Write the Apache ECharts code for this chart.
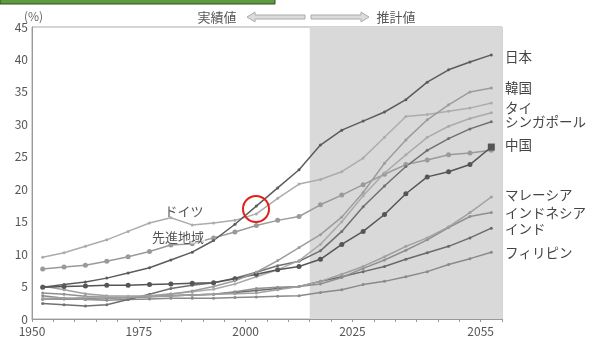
<!DOCTYPE html>
<html>
<head>
<meta charset="utf-8">
<script src="https://cdn.jsdelivr.net/npm/echarts@6/dist/echarts.min.js"></script>
<style>
  html, body { margin: 0; padding: 0; background: #fff; }
  #main { width: 594px; height: 356px; }
</style>
</head>
<body>
<div id="main"></div>
<script>
// 5-year periods, each point drawn at the middle of its period
const years = [1950, 1955, 1960, 1965, 1970, 1975, 1980, 1985, 1990, 1995, 2000,
  2005, 2010, 2015, 2020, 2025, 2030, 2035, 2040, 2045, 2050, 2055];
const labelYears = [1950, 1975, 2000, 2025, 2055];

// 65歳以上人口比率 (%)
const japan = [4.9, 5.3, 5.7, 6.3, 7.1, 7.9, 9.1, 10.3, 12.1, 14.6, 17.4, 20.2, 23.0, 26.8, 29.1, 30.5, 31.9, 33.8, 36.5, 38.4, 39.6, 40.7];
const korea = [3.0, 3.2, 3.0, 3.2, 3.3, 3.5, 3.8, 4.3, 5.0, 5.9, 7.2, 9.0, 11.0, 13.0, 15.7, 19.5, 24.0, 27.6, 30.7, 33.0, 35.0, 35.6];
const germany = [9.5, 10.2, 11.2, 12.2, 13.5, 14.8, 15.6, 14.5, 14.8, 15.2, 16.2, 18.6, 20.8, 21.5, 22.7, 24.8, 28.0, 31.2, 31.5, 32.0, 32.5, 33.3];
const developed = [7.7, 8.0, 8.3, 8.9, 9.6, 10.4, 11.4, 11.6, 12.5, 13.4, 14.4, 15.2, 15.8, 17.6, 19.1, 20.7, 22.3, 23.8, 24.5, 25.3, 25.6, 26.0];
const thailand = [3.2, 3.2, 3.3, 3.4, 3.5, 3.6, 3.9, 4.2, 4.6, 5.4, 6.5, 7.6, 9.0, 11.5, 15.0, 19.0, 22.5, 25.3, 28.0, 29.7, 30.9, 31.8];
const singapore = [2.4, 2.2, 2.0, 2.2, 3.0, 3.8, 4.7, 5.2, 5.6, 6.3, 7.2, 8.2, 8.9, 10.5, 13.5, 17.3, 20.5, 23.5, 26.0, 27.8, 29.3, 30.4];
const china = [4.9, 5.0, 5.1, 5.2, 5.2, 5.3, 5.4, 5.5, 5.6, 6.2, 6.9, 7.6, 8.1, 9.2, 11.5, 13.5, 16.1, 19.3, 21.9, 22.7, 23.8, 26.5];
const malaysia = [5.1, 4.5, 3.9, 3.6, 3.5, 3.5, 3.6, 3.7, 3.8, 3.9, 4.0, 4.5, 5.0, 5.8, 6.9, 8.1, 9.6, 11.2, 12.5, 14.2, 16.4, 18.8];
const indonesia = [4.0, 3.8, 3.5, 3.4, 3.3, 3.4, 3.6, 3.7, 3.8, 4.2, 4.7, 4.9, 5.0, 5.4, 6.4, 7.8, 9.1, 10.6, 12.2, 14.1, 15.8, 16.4];
const india = [3.1, 3.1, 3.1, 3.2, 3.3, 3.5, 3.6, 3.7, 3.8, 4.1, 4.4, 4.7, 5.0, 5.8, 6.5, 7.3, 8.1, 9.2, 10.2, 11.2, 12.5, 14.0];
const philippines = [3.6, 3.2, 3.0, 2.9, 3.0, 3.1, 3.2, 3.2, 3.2, 3.3, 3.4, 3.5, 3.6, 4.1, 4.5, 5.3, 5.8, 6.5, 7.3, 8.4, 9.3, 10.3];

const font = '"Noto Sans CJK JP", "Noto Sans", sans-serif';

const toPoints = (vals) => vals.map((v, i) => [years[i] + 2.5, v]);

const makeSeries = (name, vals, color, size, width) => ({
  name: name,
  type: 'line',
  data: toPoints(vals),
  symbol: 'circle',
  symbolSize: size || 3,
  showSymbol: true,
  lineStyle: { color: color, width: width || 1.5 },
  itemStyle: { color: color },
  z: 3,
});

const chinaSeries = makeSeries('中国', china, '#555555', 5);
const last = chinaSeries.data.length - 1;
chinaSeries.data[last] = { value: chinaSeries.data[last], symbol: 'rect', symbolSize: 7 };

// right-side labels
const rightLabels = [
  ['日本', 57], ['韓国', 88], ['タイ', 108], ['シンガポール', 122], ['中国', 145],
  ['マレーシア', 195], ['インドネシア', 213], ['インド', 229], ['フィリピン', 253],
];

const myChart = echarts.init(document.getElementById('main'));

const option = {
  animation: false,
  grid: { left: 32, right: 92, top: 27, bottom: 37, show: true, borderColor: '#aaa', borderWidth: 1 },
  xAxis: {
    type: 'value',
    min: 1950,
    max: 2060,
    interval: 5,
    axisLine: { lineStyle: { color: '#999' } },
    axisTick: { show: true, length: 3, lineStyle: { color: '#999' } },
    splitLine: { show: false },
    axisLabel: {
      color: '#555',
      fontSize: 12,
      fontFamily: font,
      margin: 6,
      formatter: (v) => (labelYears.includes(v) ? String(v) : ''),
    },
  },
  yAxis: {
    type: 'value',
    min: 0,
    max: 45,
    interval: 5,
    axisLine: { show: true, lineStyle: { color: '#999' } },
    axisTick: { show: false },
    splitLine: { show: false },
    axisLabel: { color: '#555', fontSize: 12, fontFamily: font, margin: 4 },
  },
  series: [
    {
      type: 'line',
      data: [],
      markArea: {
        silent: true,
        itemStyle: { color: '#d9d9d9' },
        data: [[{ xAxis: 2015 }, { xAxis: 2060 }]],
      },
      z: 1,
    },
    makeSeries('先進地域', developed, '#9a9a9a', 5),
    makeSeries('ドイツ', germany, '#acacac', 3),
    makeSeries('フィリピン', philippines, '#8a8a8a', 3),
    makeSeries('インド', india, '#6a6a6a', 3),
    makeSeries('インドネシア', indonesia, '#909090', 3),
    makeSeries('マレーシア', malaysia, '#a0a0a0', 3),
    makeSeries('シンガポール', singapore, '#707070', 3),
    makeSeries('タイ', thailand, '#ababab', 3),
    chinaSeries,
    makeSeries('韓国', korea, '#9c9c9c', 3),
    makeSeries('日本', japan, '#5c5c5c', 3),
  ],
  graphic: [
    { type: 'rect', shape: { x: 0, y: -6, width: 275, height: 10 },
      style: { fill: '#5e9a3e', stroke: '#2f4f22', lineWidth: 1 } },
    { type: 'text', style: { text: '(%)', x: 24, y: 16, font: '12px ' + font, fill: '#666', verticalAlign: 'middle' } },
    { type: 'text', style: { text: '実績値', x: 217, y: 17, font: '13px ' + font, fill: '#555', align: 'center', verticalAlign: 'middle' } },
    { type: 'polygon', shape: { points: [[247, 17], [255, 12], [255, 15], [305, 15], [305, 19], [255, 19], [255, 22]] },
      style: { fill: '#dcdcdc', stroke: '#aaa', lineWidth: 1 } },
    { type: 'polygon', shape: { points: [[369, 17], [361, 12], [361, 15], [311, 15], [311, 19], [361, 19], [361, 22]] },
      style: { fill: '#dcdcdc', stroke: '#aaa', lineWidth: 1 } },
    { type: 'text', style: { text: '推計値', x: 396, y: 17, font: '13px ' + font, fill: '#555', align: 'center', verticalAlign: 'middle' } },
    { type: 'text', z: 10, style: { text: 'ドイツ', x: 184, y: 211, font: '13px ' + font, fill: '#555', align: 'center', verticalAlign: 'middle' } },
    { type: 'text', z: 10, style: { text: '先進地域', x: 178, y: 237, font: '13px ' + font, fill: '#555', align: 'center', verticalAlign: 'middle',
      backgroundColor: 'rgba(255,255,255,0.75)', padding: [0, 1] } },
    { type: 'circle', z: 10, shape: { cx: 256, cy: 209, r: 13 },
      style: { fill: 'none', stroke: '#e0201b', lineWidth: 2 } },
    ...rightLabels.map(([t, y]) => ({
      type: 'text',
      style: { text: t, x: 505, y: y, font: '13.5px ' + font, fill: '#444', verticalAlign: 'middle' },
    })),
  ],
};

myChart.setOption(option);
</script>
</body>
</html>
